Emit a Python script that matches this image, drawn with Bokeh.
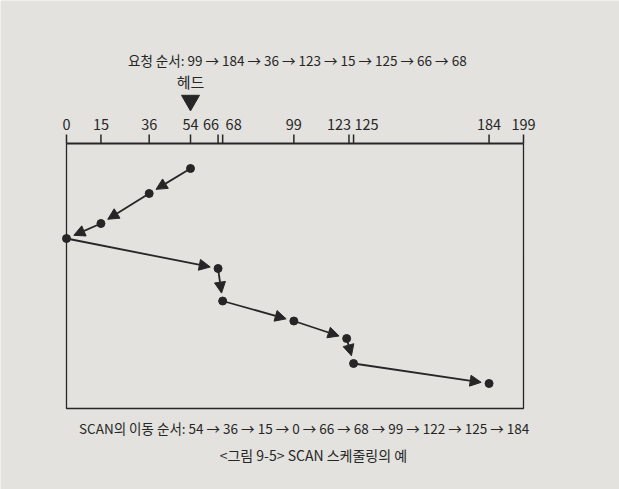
import math
from bokeh.plotting import figure
from bokeh.models import Range1d, Arrow, NormalHead, ColumnDataSource
from bokeh.core.properties import value
from bokeh.embed import file_html
from bokeh.resources import INLINE

# ---- data ----
tick_values = [0, 15, 36, 54, 66, 68, 99, 123, 125, 184, 199]
request_order = [99, 184, 36, 123, 15, 125, 66, 68]
scan_order = [54, 36, 15, 0, 66, 68, 99, 122, 125, 184]
scan_time = [0.0, 1.0, 2.2, 2.8, 4.0, 5.3, 6.1, 6.8, 7.8, 8.6]
head_start = 54
cyl_min, cyl_max = 0, 199
time_top, time_bottom = -1.0, 9.6

title_text = "요청 순서: " + " → ".join(str(v) for v in request_order)
bottom_text = "SCAN의 이동 순서: " + " → ".join(str(v) for v in scan_order)
caption_text = "<그림 9-5> SCAN 스케줄링의 예"
head_text = "헤드"

# ---- layout / styles (pixels) ----
W, H = 619, 489
BOX_L, BOX_R, BOX_T, BOX_B = 66, 523, 143, 408
INK = "#262626"
BG = "#e3e2de"
FONT = value("Noto Sans CJK KR")
label_dx = {66: -7, 68: 11, 123: -10, 125: 13}
TICK_LEN = 9

sx = (BOX_R - BOX_L) / (cyl_max - cyl_min)
sy = (BOX_B - BOX_T) / (time_bottom - time_top)

x_range = Range1d(cyl_min - BOX_L / sx, cyl_max + (W - BOX_R) / sx)
y_range = Range1d(time_bottom + (H - BOX_B) / sy, time_top - BOX_T / sy)

p = figure(width=W, height=H, x_range=x_range, y_range=y_range,
           x_axis_location=None, y_axis_location=None,
           toolbar_location=None, output_backend="svg", min_border=0)
p.title.visible = False
p.background_fill_color = BG
p.border_fill_color = BG
p.grid.visible = False
p.outline_line_color = None

# box (left, bottom, right sides)
p.line([cyl_min, cyl_min, cyl_max, cyl_max], [time_top, time_bottom, time_bottom, time_top],
       line_color=INK, line_width=1.3)
# cylinder axis along the top
p.line([cyl_min, cyl_max], [time_top, time_top], line_color=INK, line_width=2)
tick_src = ColumnDataSource(dict(
    x=tick_values,
    y0=[time_top] * len(tick_values),
    y1=[time_top - TICK_LEN / sy] * len(tick_values),
    label=[str(v) for v in tick_values],
    dx=[label_dx.get(v, 0) for v in tick_values],
))
p.segment(x0="x", y0="y0", x1="x", y1="y1", source=tick_src, line_color=INK, line_width=1.5)
p.text(x="x", y="y0", text="label", x_offset="dx", y_offset=-19, source=tick_src,
       text_align="center", text_baseline="alphabetic", text_font=FONT,
       text_font_size="14.5px", text_color=INK)

# arrows between visited cylinders
gap = 8
for i in range(len(scan_order) - 1):
    x0, t0 = scan_order[i], scan_time[i]
    x1, t1 = scan_order[i + 1], scan_time[i + 1]
    L = math.hypot((x1 - x0) * sx, (t1 - t0) * sy)
    f = (L - gap) / L
    p.add_layout(Arrow(x_start=x0, y_start=t0,
                       x_end=x0 + (x1 - x0) * f, y_end=t0 + (t1 - t0) * f,
                       line_color=INK, line_width=1.8,
                       end=NormalHead(size=11, fill_color=INK, line_color=INK, line_width=1)))

src = ColumnDataSource(dict(x=scan_order, t=scan_time))
p.scatter("x", "t", source=src, size=8, color=INK)

# head marker
p.scatter([head_start], [time_top - 43 / sy], marker="inverted_triangle", size=18, color=INK)
p.text([head_start], [time_top], text=[head_text], y_offset=-62,
       text_align="center", text_baseline="alphabetic", text_font=FONT,
       text_font_size="15px", text_color=INK)

mid = (cyl_min + cyl_max) / 2
p.text([mid + 1], [time_top], text=[title_text], y_offset=-84,
       text_align="center", text_baseline="alphabetic", text_font=FONT,
       text_font_size="13.5px", text_color=INK)
p.text([mid + 4], [time_bottom], text=[bottom_text], y_offset=19,
       text_align="center", text_baseline="alphabetic", text_font=FONT,
       text_font_size="13.5px", text_color=INK)
p.text([mid + 8], [time_bottom], text=[caption_text], y_offset=46,
       text_align="center", text_baseline="alphabetic", text_font=FONT,
       text_font_size="14px", text_color=INK)

open("out.html", "w").write(file_html(p, INLINE))
